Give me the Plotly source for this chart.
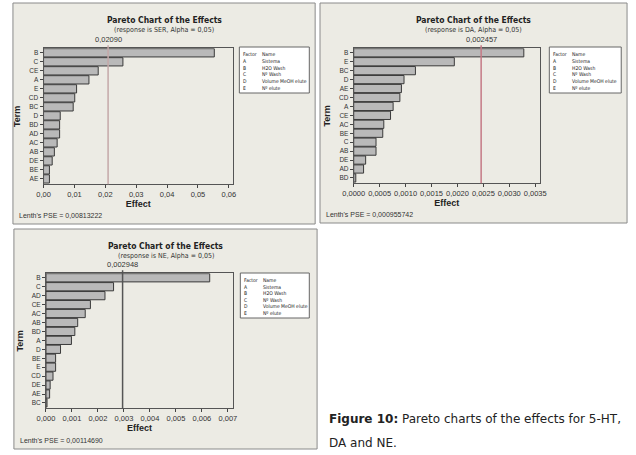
import plotly.graph_objects as go

W, H = 636, 455

# ---------------- data ----------------
ser_terms = ["B", "C", "CE", "A", "E", "CD", "BC", "D", "BD", "AD", "AC", "AB", "DE", "BE", "AE"]
ser_effects = [0.0553, 0.0257, 0.0177, 0.0147, 0.0107, 0.0101, 0.0096, 0.0054, 0.0052, 0.0052, 0.0044, 0.0035, 0.0028, 0.0019, 0.0019]
ser_ref = 0.02090
ser_pse = "0,00813222"

da_terms = ["B", "E", "BC", "D", "AE", "CD", "A", "CE", "AC", "BE", "C", "AB", "DE", "AD", "BD"]
da_effects = [0.00328, 0.00194, 0.00119, 0.00097, 0.00092, 0.00089, 0.00076, 0.00071, 0.00058, 0.00056, 0.00043, 0.00043, 0.00023, 0.00019, 0.00004]
da_ref = 0.002457
da_pse = "0,000955742"

ne_terms = ["B", "C", "AD", "CE", "AC", "AB", "BD", "A", "D", "BE", "E", "CD", "DE", "AE", "BC"]
ne_effects = [0.00630, 0.00260, 0.00227, 0.00171, 0.00151, 0.00122, 0.00111, 0.00098, 0.00056, 0.00037, 0.00037, 0.00027, 0.00016, 0.00014, 0.00004]
ne_ref = 0.002948
ne_pse = "0,00114690"

factor_letters = ["A", "B", "C", "D", "E"]
factor_names = ["Sistema", "H2O Wash", "Nº Wash", "Volume MeOH elute", "Nº elute"]

# ---------------- helpers ----------------
def px(x):
    return x / W

def py(y):
    return 1 - y / H

PANEL_BG = "#ecebe4"
BAR_FILL = "#b9b9b9"
BAR_LINE = "#3a3a3a"
FONT = "Liberation Sans"
NARROW = "Liberation Sans Narrow, DejaVu Sans Condensed, Liberation Sans"

panels = [
    dict(terms=ser_terms, eff=ser_effects, ref=ser_ref, ref_txt="0,02090", resp="SER", pse=ser_pse,
         box=(2, 3, 313, 224), plot=(33.5, 48.3, 228.3, 184.3), xr=[0, 0.0613], dt=0.01, fmt=".2f",
         refcol="#c4a8a8", legend=(235, 47, 307, 93)),
    dict(terms=da_terms, eff=da_effects, ref=da_ref, ref_txt="0,002457", resp="DA", pse=da_pse,
         box=(318, 3, 634, 223), plot=(352.7, 48.3, 544.3, 183.3), xr=[0, 0.00359], dt=0.0005, fmt=".4f",
         refcol="#c57a86", legend=(554, 47, 628, 93)),
    dict(terms=ne_terms, eff=ne_effects, ref=ne_ref, ref_txt="0,002948", resp="NE", pse=ne_pse,
         box=(3, 229, 315, 449), plot=(36, 273.3, 228.3, 408.3), xr=[0, 0.00719], dt=0.001, fmt=".3f",
         refcol="#555555", legend=(236, 273, 307, 318)),
]

fig = go.Figure()
shapes = []
annotations = []

for i, p in enumerate(panels, start=1):
    xa = "x" if i == 1 else f"x{i}"
    ya = "y" if i == 1 else f"y{i}"
    x0, y0, x1, y1 = p["box"]
    shapes.append(dict(type="rect", xref="paper", yref="paper", x0=px(x0), x1=px(x1), y0=py(y1), y1=py(y0),
                       fillcolor=PANEL_BG, line=dict(color="#8a8a8a", width=1), layer="below"))
    fig.add_trace(go.Bar(x=p["eff"], y=p["terms"], orientation="h", xaxis=xa, yaxis=ya,
                         marker=dict(color=BAR_FILL, line=dict(color=BAR_LINE, width=1)),
                         showlegend=False, hoverinfo="skip"))
    l, t, r, b = p["plot"]
    lay_x = "xaxis" if i == 1 else f"xaxis{i}"
    lay_y = "yaxis" if i == 1 else f"yaxis{i}"
    fig.layout[lay_x] = dict(domain=[px(l), px(r)], anchor=ya, range=p["xr"], dtick=p["dt"], tick0=0,
                             tickformat=p["fmt"], ticks="outside", ticklen=3, tickcolor="#444", tickangle=0,
                             showgrid=False, zeroline=False, showline=True, linecolor="#555", mirror=True,
                             tickfont=dict(family=FONT, size=7.5, color="#333"),
                             title=dict(text="<b>Effect</b>", font=dict(family=FONT, size=9, color="#222"), standoff=2))
    fig.layout[lay_y] = dict(domain=[py(b), py(t)], anchor=xa, type="category",
                             categoryorder="array", categoryarray=p["terms"], range=[14.6, -0.5],
                             ticks="outside", ticklen=3, tickcolor="#444", showgrid=False, zeroline=False,
                             showline=True, linecolor="#555", mirror=True,
                             tickfont=dict(family=FONT, size=6.5, color="#333"),
                             title=dict(text="<b>Term</b>", font=dict(family=FONT, size=9, color="#222"), standoff=6))
    # reference line
    shapes.append(dict(type="line", xref=xa, yref="paper", x0=p["ref"], x1=p["ref"],
                       y0=py(b), y1=py(t - 3), line=dict(color=p["refcol"], width=1.5)))
    annotations.append(dict(xref=xa, yref="paper", x=p["ref"], y=py(t - 2), text=p["ref_txt"],
                            showarrow=False, xanchor="center", yanchor="bottom",
                            font=dict(family=FONT, size=7.5, color="#333")))
    # titles
    cx = (x0 + x1) / 2
    annotations.append(dict(xref="paper", yref="paper", x=px(cx), y=py(y0 + 17), text="<b>Pareto Chart of the Effects</b>",
                            showarrow=False, xanchor="center", yanchor="middle",
                            font=dict(family=NARROW, size=8.5, color="#222")))
    annotations.append(dict(xref="paper", yref="paper", x=px(cx), y=py(y0 + 27),
                            text=f"(response is {p['resp']}, Alpha = 0,05)",
                            showarrow=False, xanchor="center", yanchor="middle",
                            font=dict(family=NARROW, size=7, color="#333")))
    annotations.append(dict(xref="paper", yref="paper", x=px(x0 + 4), y=py(y1 - 9),
                            text=f"Lenth's PSE = {p['pse']}", xanchor="left",
                            showarrow=False, yanchor="middle", font=dict(family=FONT, size=7, color="#333")))
    # factor legend box
    lx0, ly0, lx1, ly1 = p["legend"]
    shapes.append(dict(type="rect", xref="paper", yref="paper", x0=px(lx0), x1=px(lx1), y0=py(ly1), y1=py(ly0),
                       fillcolor="white", line=dict(color="#666", width=1)))
    rows = [("Factor", "Name")] + list(zip(factor_letters, factor_names))
    step = (ly1 - ly0 - 6) / len(rows)
    for k, (a, nm) in enumerate(rows):
        yy = ly0 + 4 + step * (k + 0.5)
        annotations.append(dict(xref="paper", yref="paper", x=px(lx0 + 2), y=py(yy), text=a, xanchor="left",
                                showarrow=False, yanchor="middle", font=dict(family=NARROW, size=5, color="#222")))
        annotations.append(dict(xref="paper", yref="paper", x=px(lx0 + 21), y=py(yy), text=nm, xanchor="left",
                                showarrow=False, yanchor="middle", font=dict(family=NARROW, size=5, color="#222")))

# caption
CAP_FONT = dict(family="DejaVu Sans", size=12, color="#222")
annotations.append(dict(xref="paper", yref="paper", x=px(325), y=py(419),
                        text="<b>Figure 10:</b> Pareto charts of the effects for 5-HT,", xanchor="left",
                        showarrow=False, yanchor="middle", font=CAP_FONT))
annotations.append(dict(xref="paper", yref="paper", x=px(325), y=py(443),
                        text="DA and NE.", xanchor="left",
                        showarrow=False, yanchor="middle", font=CAP_FONT))

fig.update_layout(width=W, height=H, margin=dict(l=0, r=0, t=0, b=0), paper_bgcolor="white",
                  plot_bgcolor="white", bargap=0.08, separators=", ", shapes=shapes, annotations=annotations,
                  font=dict(family=FONT))
fig.write_html("out.html")
